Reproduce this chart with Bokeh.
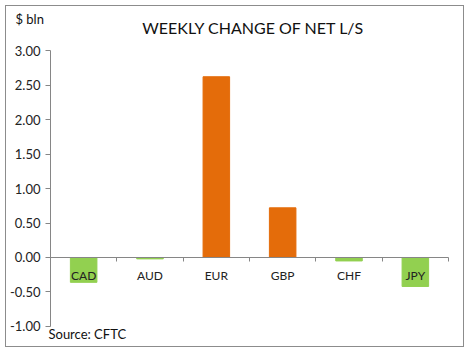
from bokeh.plotting import figure
from bokeh.models import Range1d, FixedTicker, LinearAxis, NumeralTickFormatter, Label, ColumnDataSource
from bokeh.embed import file_html
from bokeh.resources import INLINE

categories = ["CAD", "AUD", "EUR", "GBP", "CHF", "JPY"]
values = [-0.36, -0.02, 2.62, 0.72, -0.05, -0.42]
y_ticks = [-1.0, -0.5, 0.0, 0.5, 1.0, 1.5, 2.0, 2.5, 3.0]

POS = "#E46C0A"
NEG = "#92D050"
AXIS = "#868686"
FONT = "Lato"

n = len(categories)
xs = [i + 0.5 for i in range(n)]
colors = [POS if v >= 0 else NEG for v in values]
src = ColumnDataSource(dict(x=xs, top=values, color=colors, cat=categories))

p = figure(width=459, height=342, output_backend="svg", toolbar_location=None,
           x_range=Range1d(-0.663, 6.256), y_range=Range1d(-1.319, 3.638),
           min_border_left=0, min_border_right=0, min_border_top=0, min_border_bottom=0,
           styles={"margin-left": "5px", "margin-top": "5px", "border": "1px solid #8c8c8c"})
p.outline_line_color = None
p.xgrid.visible = False
p.ygrid.visible = False
p.xaxis.visible = False

p.vbar(x="x", top="top", bottom=0, width=0.4, color="color", source=src)

# y axis
ya = p.yaxis[0]
ya.fixed_location = 0
ya.bounds = (y_ticks[0], y_ticks[-1])
ya.ticker = FixedTicker(ticks=y_ticks)
ya.formatter = NumeralTickFormatter(format="0.00")
ya.axis_line_color = AXIS
ya.major_tick_line_color = AXIS
ya.major_tick_in = 0
ya.major_tick_out = 5
ya.minor_tick_line_color = None
ya.major_label_text_font = FONT
ya.major_label_text_font_size = "13px"
ya.major_label_text_color = "#222222"
ya.major_label_standoff = 5

# category axis: tick marks at boundaries
bx = LinearAxis(ticker=FixedTicker(ticks=list(range(n + 1))),
                fixed_location=0, bounds=(0, n),
                major_label_overrides={i: "" for i in range(n + 1)},
                axis_line_color=AXIS, major_tick_line_color=AXIS,
                major_tick_in=0, major_tick_out=4, minor_tick_line_color=None)
p.add_layout(bx, "below")

lx = LinearAxis(ticker=FixedTicker(ticks=xs), fixed_location=0,
                major_label_overrides={x: c for x, c in zip(xs, categories)},
                axis_line_color=None, major_tick_line_color=None,
                major_tick_in=0, major_tick_out=0,
                minor_tick_line_color=None, major_label_standoff=11,
                major_label_text_font=FONT, major_label_text_font_size="12px",
                major_label_text_color="#222222")
p.add_layout(lx, "below")

title = Label(x=n / 2, y=3.333, x_offset=4, text="WEEKLY CHANGE OF NET L/S",
              text_font=FONT, text_font_size="16px", text_align="center",
              text_baseline="middle", text_color="#111111")
p.add_layout(title)
unit = Label(x=-0.528, y=3.464, text="$ bln", text_font=FONT,
             text_font_size="13px", text_baseline="middle", text_color="#111111")
p.add_layout(unit)
source = Label(x=-0.03, y=-1.116, text="Source: CFTC", text_font=FONT,
               text_font_size="13px", text_baseline="middle", text_color="#111111")
p.add_layout(source)

open("out.html", "w").write(file_html(p, INLINE))
